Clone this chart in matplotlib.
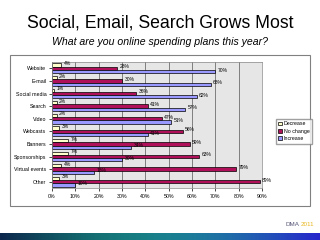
import matplotlib
matplotlib.use('Agg')
import matplotlib.pyplot as plt
from matplotlib.patches import Rectangle
import numpy as np

plt.rcParams['font.family'] = ['Liberation Sans', 'DejaVu Sans']

categories = ['Website', 'E-mail', 'Social media', 'Search', 'Video', 'Webcasts',
              'Banners', 'Sponsorships', 'Virtual events', 'Other']
decrease = [4, 2, 1, 2, 2, 3, 7, 7, 4, 3]
no_change = [28, 30, 36, 41, 47, 56, 59, 63, 79, 89]
increase = [70, 68, 62, 57, 51, 41, 34, 30, 18, 10]
ticks = [0, 10, 20, 30, 40, 50, 60, 70, 80, 90]

fig = plt.figure(figsize=(3.2, 2.4), dpi=100)

fig.text(0.5, 0.905, 'Social, Email, Search Grows Most', ha='center', va='center',
         fontsize=12.7)
fig.text(0.5, 0.825, 'What are you online spending plans this year?', ha='center',
         va='center', fontsize=7.6, style='italic')

# chart frame
fig.patches.append(Rectangle((10 / 320, 1 - 206 / 240), 300 / 320, 151 / 240,
                             transform=fig.transFigure, fill=False,
                             edgecolor='#808080', lw=0.8))

ax = fig.add_axes([52 / 320, 1 - 188 / 240, 210 / 320, 126 / 240])
ax.set_facecolor('#e6e6e6')
y = np.arange(len(categories))
h = 0.26
b1 = ax.barh(y - h, decrease, height=h, color='#ffffcc', edgecolor='black', lw=0.5,
             label='Decrease')
b2 = ax.barh(y, no_change, height=h, color='#b0105a', edgecolor='black', lw=0.5,
             label='No change')
b3 = ax.barh(y + h, increase, height=h, color='#9999ff', edgecolor='black', lw=0.5,
             label='Increase')
for bars, vals in ((b1, decrease), (b2, no_change), (b3, increase)):
    for bar, v in zip(bars, vals):
        ax.text(v + 1, bar.get_y() + bar.get_height() / 2 - 0.12, '%d%%' % v,
                fontsize=3.6, va='center', ha='left')

ax.set_ylim(len(categories) - 0.5, -0.5)
ax.set_xlim(0, 90)
ax.set_yticks(y)
ax.set_yticklabels(categories, fontsize=3.8)
ax.set_xticks(ticks)
ax.set_xticklabels(['%d%%' % t for t in ticks], fontsize=3.8)
ax.tick_params(length=2, width=0.5, pad=2)
ax.xaxis.grid(True, color='#555555', lw=0.5)
ax.set_axisbelow(True)
for s in ax.spines.values():
    s.set_linewidth(0.5)
    s.set_color('#888888')

fig.legend(handles=[b1, b2, b3], loc='upper left',
           bbox_to_anchor=(273 / 320, 1 - 116 / 240), fontsize=3.8,
           frameon=True, fancybox=False, edgecolor='#888888', handlelength=0.7,
           handleheight=0.7, handletextpad=0.3, borderpad=0.5, labelspacing=0.45)

# logo and bottom banner
fig.text(0.937, 1 - 225 / 240, 'DMA', ha='right', va='center', fontsize=4.5,
         color='#555577')
fig.text(0.94, 1 - 225 / 240, '2011', ha='left', va='center', fontsize=4.5,
         color='#e8b820')

band = fig.add_axes([0, 0, 1, 7 / 240])
grad = np.linspace(0, 1, 256)
colors = np.zeros((1, 256, 3))
colors[0, :, 0] = 0.05 + 0.1 * grad
colors[0, :, 1] = 0.15 + 0.35 * np.sin(grad * np.pi)
colors[0, :, 2] = 0.3 + 0.5 * grad
band.imshow(colors, aspect='auto', extent=(0, 1, 0, 1))
band.axis('off')

fig.savefig('out.png', dpi=100)
